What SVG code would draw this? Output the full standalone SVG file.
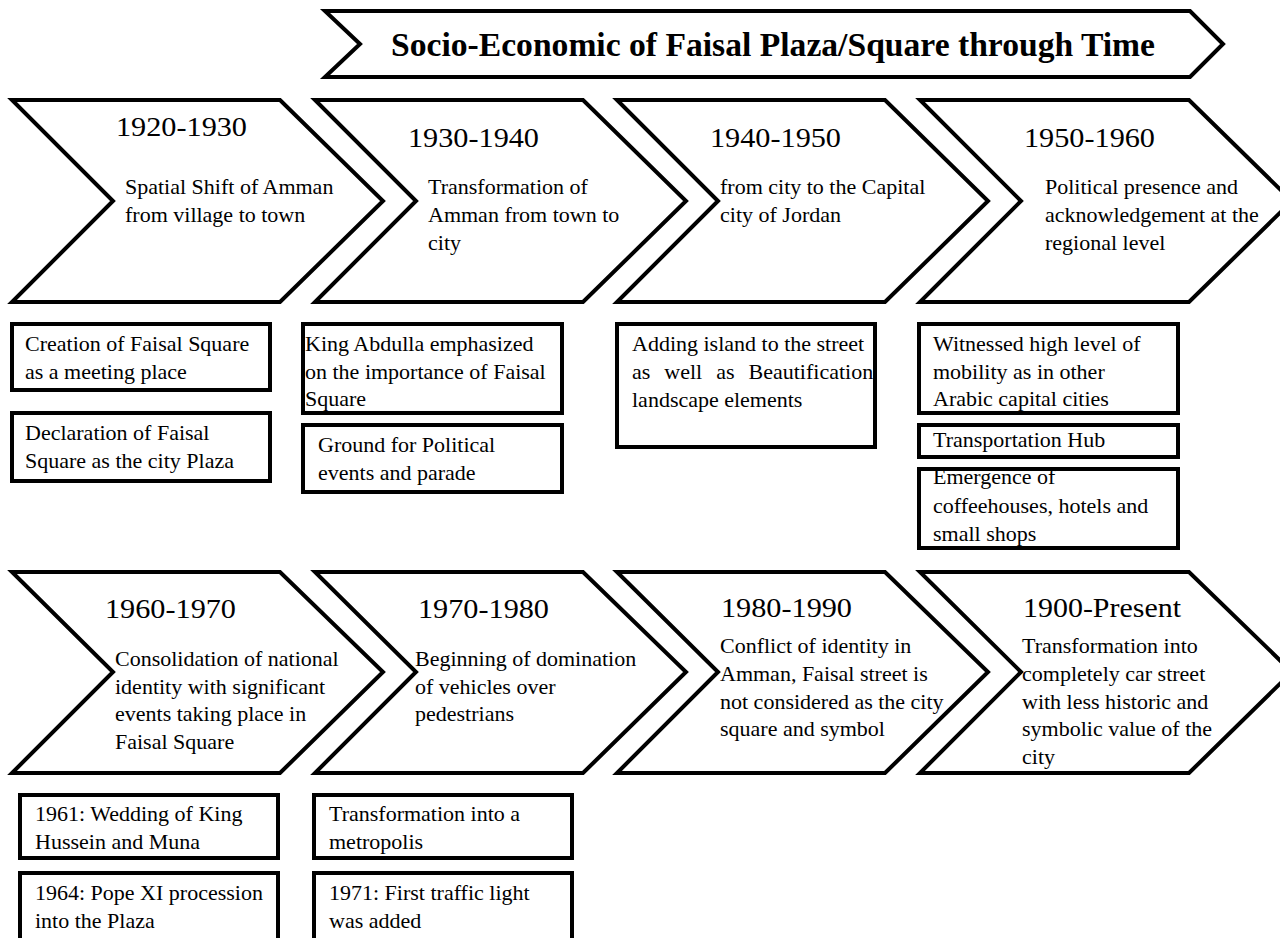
<svg xmlns="http://www.w3.org/2000/svg" width="1280" height="938" viewBox="0 0 1280 938">
  <style>
    .chev { fill: #fff; stroke: #000; stroke-width: 4; stroke-linejoin: miter; }
    .bg { fill: #fff; stroke: none; }
    .bd { fill: none; stroke: #000; stroke-width: 4; }
    text { font-family: "Liberation Serif", "Times New Roman", serif; fill: #000; }
    .title { font-size: 33px; font-weight: bold; }
    .h { font-size: 27px; }
    .t { font-size: 22px; }
  </style>
  <rect width="1280" height="938" fill="#fff"/>

  <!-- Title banner -->
  <g id="title">
    <path class="chev" d="M325,11 H1190 L1223,44 L1190,77 H325 L360,44 Z"/>
    <text class="title" x="391" y="56" textLength="764" lengthAdjust="spacingAndGlyphs">Socio-Economic of Faisal Plaza/Square through Time</text>
  </g>

  <!-- Row 1 of decades -->
  <g id="d1920">
    <path class="chev" d="M12,100 H280 L383,201 L280,302 H12 L113,201 Z"/>
    <text class="h" x="116" y="136" textLength="131" lengthAdjust="spacingAndGlyphs">1920-1930</text>
    <text class="t" x="125" y="194">Spatial Shift of Amman</text>
    <text class="t" x="125" y="222">from village  to town</text>
  </g>
  <g id="d1930">
    <path class="chev" d="M315,100 H583 L686,201 L583,302 H315 L416,201 Z"/>
    <text class="h" x="408" y="147" textLength="131" lengthAdjust="spacingAndGlyphs">1930-1940</text>
    <text class="t" x="428" y="194">Transformation  of</text>
    <text class="t" x="428" y="222">Amman from town to</text>
    <text class="t" x="428" y="250">city</text>
  </g>
  <g id="d1940">
    <path class="chev" d="M617,100 H885 L988,201 L885,302 H617 L718,201 Z"/>
    <text class="h" x="710" y="147" textLength="131" lengthAdjust="spacingAndGlyphs">1940-1950</text>
    <text class="t" x="720" y="194">from city to the Capital</text>
    <text class="t" x="720" y="222">city of Jordan</text>
  </g>
  <g id="d1950">
    <path class="chev" d="M920,100 H1189 L1292,201 L1189,302 H920 L1021,201 Z"/>
    <text class="h" x="1024" y="147" textLength="131" lengthAdjust="spacingAndGlyphs">1950-1960</text>
    <text class="t" x="1045" y="194">Political presence and</text>
    <text class="t" x="1045" y="222">acknowledgement at the</text>
    <text class="t" x="1045" y="250">regional level</text>
  </g>

  <!-- Row 1 notes -->
  <g id="n1920a">
    <rect class="bg" x="12" y="324" width="258" height="66"/>
    <text class="t" x="25" y="351">Creation of Faisal  Square</text>
    <text class="t" x="25" y="379">as a meeting place</text>
    <rect class="bd" x="12" y="324" width="258" height="66"/>
  </g>
  <g id="n1920b">
    <rect class="bg" x="12" y="413" width="258" height="68"/>
    <text class="t" x="25" y="440">Declaration of Faisal</text>
    <text class="t" x="25" y="468">Square as the city  Plaza</text>
    <rect class="bd" x="12" y="413" width="258" height="68"/>
  </g>
  <g id="n1930a">
    <rect class="bg" x="303" y="324" width="259" height="89"/>
    <rect class="bd" x="303" y="324" width="259" height="89"/>
    <text class="t" x="305" y="351">King Abdulla emphasized</text>
    <text class="t" x="305" y="379">on the importance  of Faisal</text>
    <text class="t" x="305" y="406">Square</text>
  </g>
  <g id="n1930b">
    <rect class="bg" x="303" y="425" width="259" height="67"/>
    <text class="t" x="318" y="452">Ground for Political</text>
    <text class="t" x="318" y="480">events and parade</text>
    <rect class="bd" x="303" y="425" width="259" height="67"/>
  </g>
  <g id="n1940a">
    <rect class="bg" x="617" y="324" width="258" height="123"/>
    <text class="t" x="632" y="351">Adding island to the street</text>
    <text class="t" x="632" y="379" word-spacing="8.5">as well as Beautification</text>
    <text class="t" x="632" y="407">landscape elements</text>
    <rect class="bd" x="617" y="324" width="258" height="123"/>
  </g>
  <g id="n1950a">
    <rect class="bg" x="919" y="324" width="259" height="89"/>
    <text class="t" x="933" y="351">Witnessed high level  of</text>
    <text class="t" x="933" y="379">mobility  as in other</text>
    <text class="t" x="933" y="406">Arabic capital  cities</text>
    <rect class="bd" x="919" y="324" width="259" height="89"/>
  </g>
  <g id="n1950b">
    <rect class="bg" x="919" y="425" width="259" height="32"/>
    <text class="t" x="933" y="447">Transportation  Hub</text>
    <rect class="bd" x="919" y="425" width="259" height="32"/>
  </g>
  <g id="n1950c">
    <rect class="bg" x="919" y="469" width="259" height="79"/>
    <text class="t" x="933" y="484">Emergence of</text>
    <text class="t" x="933" y="513">coffeehouses, hotels and</text>
    <text class="t" x="933" y="541">small shops</text>
    <rect class="bd" x="919" y="469" width="259" height="79"/>
  </g>

  <!-- Row 2 of decades -->
  <g id="d1960">
    <path class="chev" d="M12,572 H280 L383,672 L280,773 H12 L113,672 Z"/>
    <text class="h" x="105" y="618" textLength="131" lengthAdjust="spacingAndGlyphs">1960-1970</text>
    <text class="t" x="115" y="666">Consolidation of national</text>
    <text class="t" x="115" y="694">identity with significant</text>
    <text class="t" x="115" y="721">events taking place in</text>
    <text class="t" x="115" y="749">Faisal Square</text>
  </g>
  <g id="d1970">
    <path class="chev" d="M315,572 H583 L686,672 L583,773 H315 L416,672 Z"/>
    <text class="h" x="418" y="618" textLength="131" lengthAdjust="spacingAndGlyphs">1970-1980</text>
    <text class="t" x="415" y="666">Beginning of domination</text>
    <text class="t" x="415" y="694">of vehicles over</text>
    <text class="t" x="415" y="721">pedestrians</text>
  </g>
  <g id="d1980">
    <path class="chev" d="M617,572 H885 L988,672 L885,773 H617 L718,672 Z"/>
    <text class="h" x="721" y="617" textLength="131" lengthAdjust="spacingAndGlyphs">1980-1990</text>
    <text class="t" x="720" y="653">Conflict of identity in</text>
    <text class="t" x="720" y="681">Amman, Faisal  street is</text>
    <text class="t" x="720" y="709">not considered as the city</text>
    <text class="t" x="720" y="736">square and symbol</text>
  </g>
  <g id="d1990">
    <path class="chev" d="M920,572 H1189 L1292,672 L1189,773 H920 L1021,672 Z"/>
    <text class="h" x="1023" y="617" textLength="158" lengthAdjust="spacingAndGlyphs">1900-Present</text>
    <text class="t" x="1022" y="653">Transformation into</text>
    <text class="t" x="1022" y="681">completely car street</text>
    <text class="t" x="1022" y="709">with less historic  and</text>
    <text class="t" x="1022" y="736">symbolic value of the</text>
    <text class="t" x="1022" y="764">city</text>
  </g>

  <!-- Row 2 notes -->
  <g id="n1960a">
    <rect class="bg" x="20" y="795" width="258" height="63"/>
    <text class="t" x="35" y="821">1961: Wedding of King</text>
    <text class="t" x="35" y="849">Hussein and Muna</text>
    <rect class="bd" x="20" y="795" width="258" height="63"/>
  </g>
  <g id="n1960b">
    <rect class="bg" x="20" y="873" width="258" height="72"/>
    <text class="t" x="35" y="900">1964: Pope XI procession</text>
    <text class="t" x="35" y="928">into the Plaza</text>
    <rect class="bd" x="20" y="873" width="258" height="72"/>
  </g>
  <g id="n1970a">
    <rect class="bg" x="314" y="795" width="258" height="63"/>
    <text class="t" x="329" y="821">Transformation  into a</text>
    <text class="t" x="329" y="849">metropolis</text>
    <rect class="bd" x="314" y="795" width="258" height="63"/>
  </g>
  <g id="n1970b">
    <rect class="bg" x="314" y="873" width="258" height="72"/>
    <text class="t" x="329" y="900">1971: First  traffic light</text>
    <text class="t" x="329" y="928">was added</text>
    <rect class="bd" x="314" y="873" width="258" height="72"/>
  </g>

  <!-- No connectors: the layout is a sequence of chevrons -->
  <g id="connectors"/>
</svg>
